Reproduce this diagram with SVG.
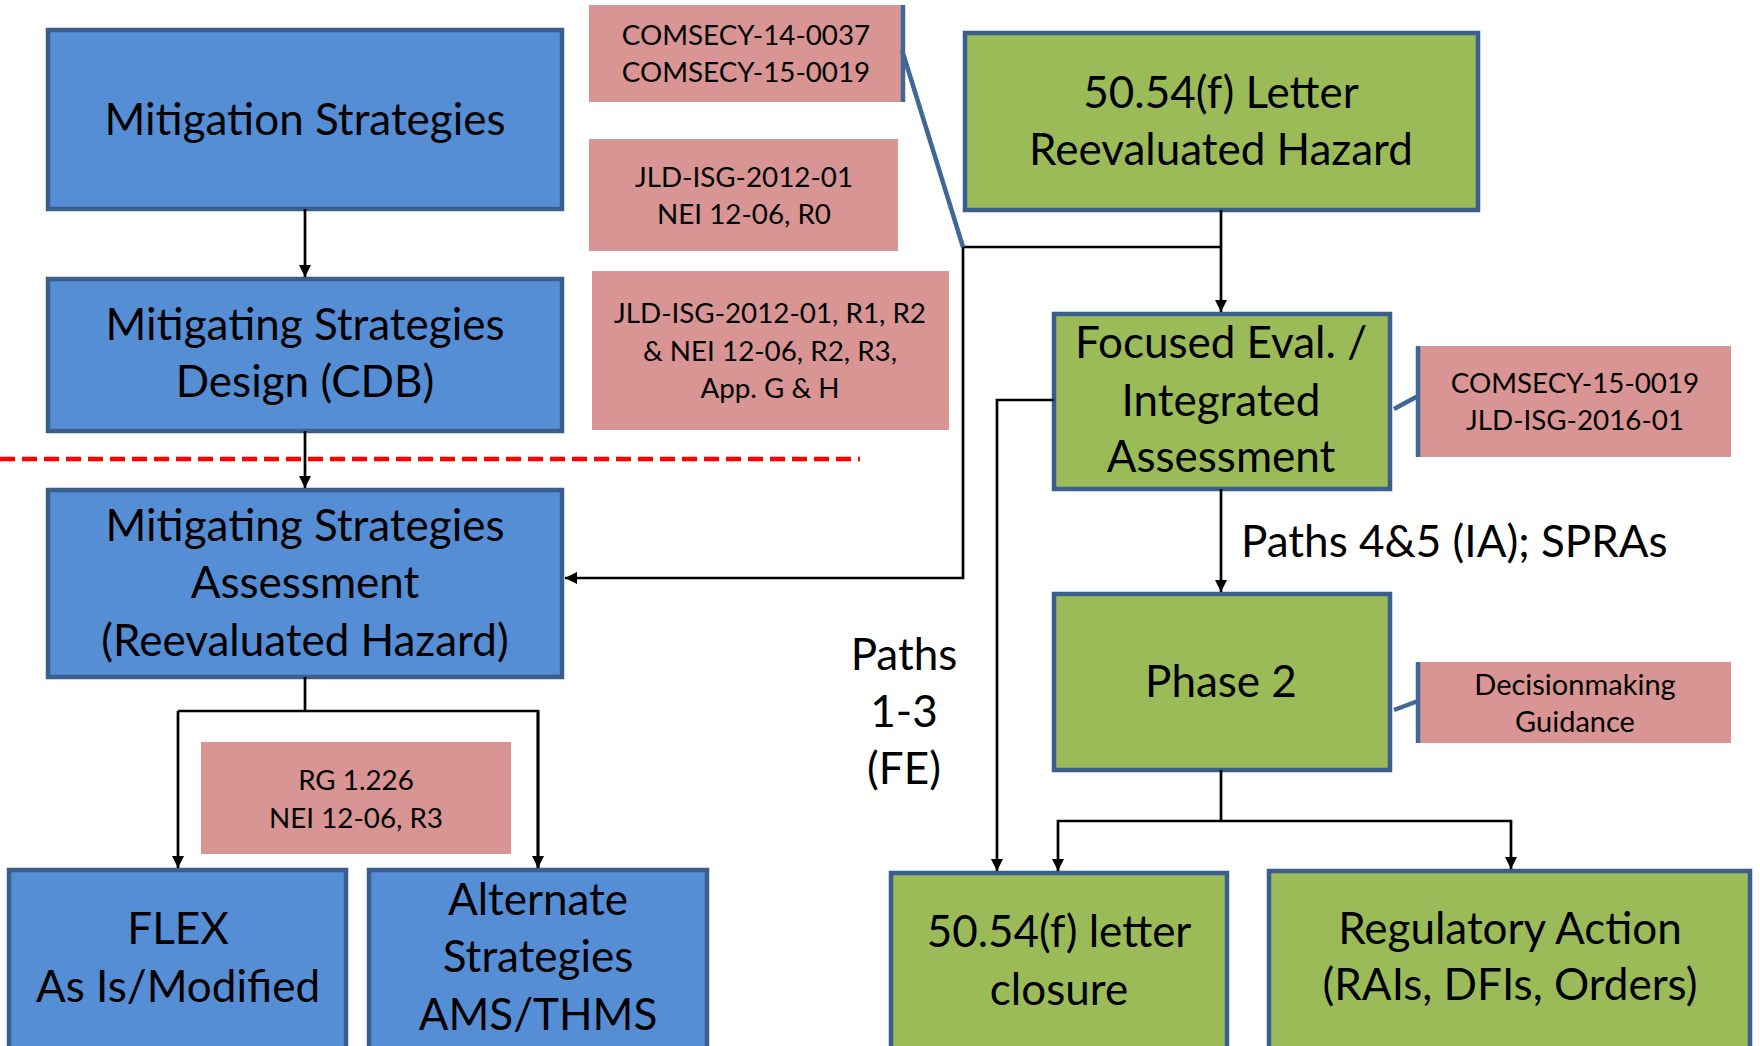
<svg xmlns="http://www.w3.org/2000/svg" width="1760" height="1046" viewBox="0 0 1760 1046">
<defs>
<style>
.blue{fill:#558ed5;stroke:#3b5f8d;stroke-width:4.5}
.green{fill:#9bbb59;stroke:#3b5f8d;stroke-width:4.5}
.pink{fill:#d99594;stroke:none}
.bt{font-family:Lato,"Liberation Sans",sans-serif;font-size:44px;fill:#000;text-anchor:middle}
.pt{font-family:Lato,"Liberation Sans",sans-serif;font-size:27.8px;fill:#000;text-anchor:middle}
.con{fill:none;stroke:#000;stroke-width:2.7}
.call{fill:none;stroke:#3f6797;stroke-width:4.5}
</style>
<marker id="ah" viewBox="0 0 10 10" refX="10" refY="5" markerWidth="14" markerHeight="12" markerUnits="userSpaceOnUse" orient="auto"><path d="M0,0 L10,5 L0,10 z" fill="#000"/></marker>
</defs>
<rect width="1760" height="1046" fill="#fff"/>

<g id="n1"><rect class="blue" x="48" y="30" width="514" height="179"/><text class="bt" x="305" y="135">Mitigation Strategies</text></g>
<g id="n2"><rect class="blue" x="48" y="279" width="514" height="152"/><text class="bt" x="305" y="340">Mitigating Strategies</text><text class="bt" x="305" y="397">Design (CDB)</text></g>
<g id="n3"><rect class="blue" x="48" y="490" width="514" height="187"/><text class="bt" x="305" y="541">Mitigating Strategies</text><text class="bt" x="305" y="598">Assessment</text><text class="bt" x="305" y="656">(Reevaluated Hazard)</text></g>
<g id="n4"><rect class="blue" x="9" y="870" width="337" height="200"/><text class="bt" x="178" y="944">FLEX</text><text class="bt" x="178" y="1002">As Is/Modified</text></g>
<g id="n5"><rect class="blue" x="369" y="870" width="338" height="200"/><text class="bt" x="538" y="915">Alternate</text><text class="bt" x="538" y="972">Strategies</text><text class="bt" x="538" y="1030">AMS/THMS</text></g>
<g id="n6"><rect class="green" x="965" y="33" width="513" height="177"/><text class="bt" x="1221" y="108">50.54(f) Letter</text><text class="bt" x="1221" y="165">Reevaluated Hazard</text></g>
<g id="n7"><rect class="green" x="1054" y="314" width="336" height="175"/><text class="bt" x="1221" y="358">Focused Eval. /</text><text class="bt" x="1221" y="416">Integrated</text><text class="bt" x="1221" y="472">Assessment</text></g>
<g id="n8"><rect class="green" x="1054" y="594" width="336" height="176"/><text class="bt" x="1221" y="697">Phase 2</text></g>
<g id="n9"><rect class="green" x="891" y="873" width="336" height="200"/><text class="bt" x="1059" y="947">50.54(f) letter</text><text class="bt" x="1059" y="1005">closure</text></g>
<g id="n10"><rect class="green" x="1269" y="871" width="481" height="200"/><text class="bt" x="1510" y="944">Regulatory Action</text><text class="bt" x="1510" y="1000">(RAIs, DFIs, Orders)</text></g>

<g id="p1"><rect class="pink" x="589" y="5" width="314" height="97"/><text class="pt" x="746" y="45">COMSECY-14-0037</text><text class="pt" x="746" y="82">COMSECY-15-0019</text></g>
<g id="p2"><rect class="pink" x="589" y="139" width="309" height="112"/><text class="pt" x="744" y="187">JLD-ISG-2012-01</text><text class="pt" x="744" y="224">NEI 12-06, R0</text></g>
<g id="p3"><rect class="pink" x="592" y="271" width="357" height="159"/><text class="pt" x="770" y="323">JLD-ISG-2012-01, R1, R2</text><text class="pt" x="770" y="361">&amp; NEI 12-06, R2, R3,</text><text class="pt" x="770" y="398">App. G &amp; H</text></g>
<g id="p4"><rect class="pink" x="1418" y="346" width="313" height="111"/><text class="pt" x="1575" y="393">COMSECY-15-0019</text><text class="pt" x="1575" y="430">JLD-ISG-2016-01</text></g>
<g id="p5"><rect class="pink" x="1418" y="662" width="313" height="81"/><text class="pt" x="1575" y="695" style="font-size:29px">Decisionmaking</text><text class="pt" x="1575" y="732" style="font-size:29px">Guidance</text></g>
<g id="p6"><rect class="pink" x="201" y="742" width="310" height="112"/><text class="pt" x="356" y="790">RG 1.226</text><text class="pt" x="356" y="828">NEI 12-06, R3</text></g>

<g id="labels">
<text class="bt" x="904" y="670">Paths</text><text class="bt" x="904" y="727">1-3</text><text class="bt" x="904" y="784">(FE)</text>
<text class="bt" x="1241" y="557" style="text-anchor:start">Paths 4&amp;5 (IA); SPRAs</text>
</g>

<g id="connectors">
<line x1="0" y1="459" x2="860" y2="459" stroke="#ff0000" stroke-width="4.5" stroke-dasharray="15 7"/>
<path class="con" d="M305 209V277" marker-end="url(#ah)"/>
<path class="con" d="M305 431V488" marker-end="url(#ah)"/>
<path class="con" d="M305 677V711"/>
<path class="con" d="M178 711V868" marker-end="url(#ah)"/>
<path class="con" d="M538 868V711H178"/>
<path class="con" d="M538 711V868" marker-end="url(#ah)"/>
<path class="con" d="M1221 210V312" marker-end="url(#ah)"/>
<path class="con" d="M1221 247H963V578H565" marker-end="url(#ah)"/>
<path class="con" d="M1054 400H997V871" marker-end="url(#ah)"/>
<path class="con" d="M1221 489V592" marker-end="url(#ah)"/>
<path class="con" d="M1221 770V821"/>
<path class="con" d="M1221 821H1058V871" marker-end="url(#ah)"/>
<path class="con" d="M1221 821H1511V869" marker-end="url(#ah)"/>
<path class="call" d="M903 5V102M902 50L963 247"/>
<path class="call" d="M1418 346V457M1394 409L1418 396"/>
<path class="call" d="M1418 662V743M1394 710L1418 701"/>
</g>
</svg>
